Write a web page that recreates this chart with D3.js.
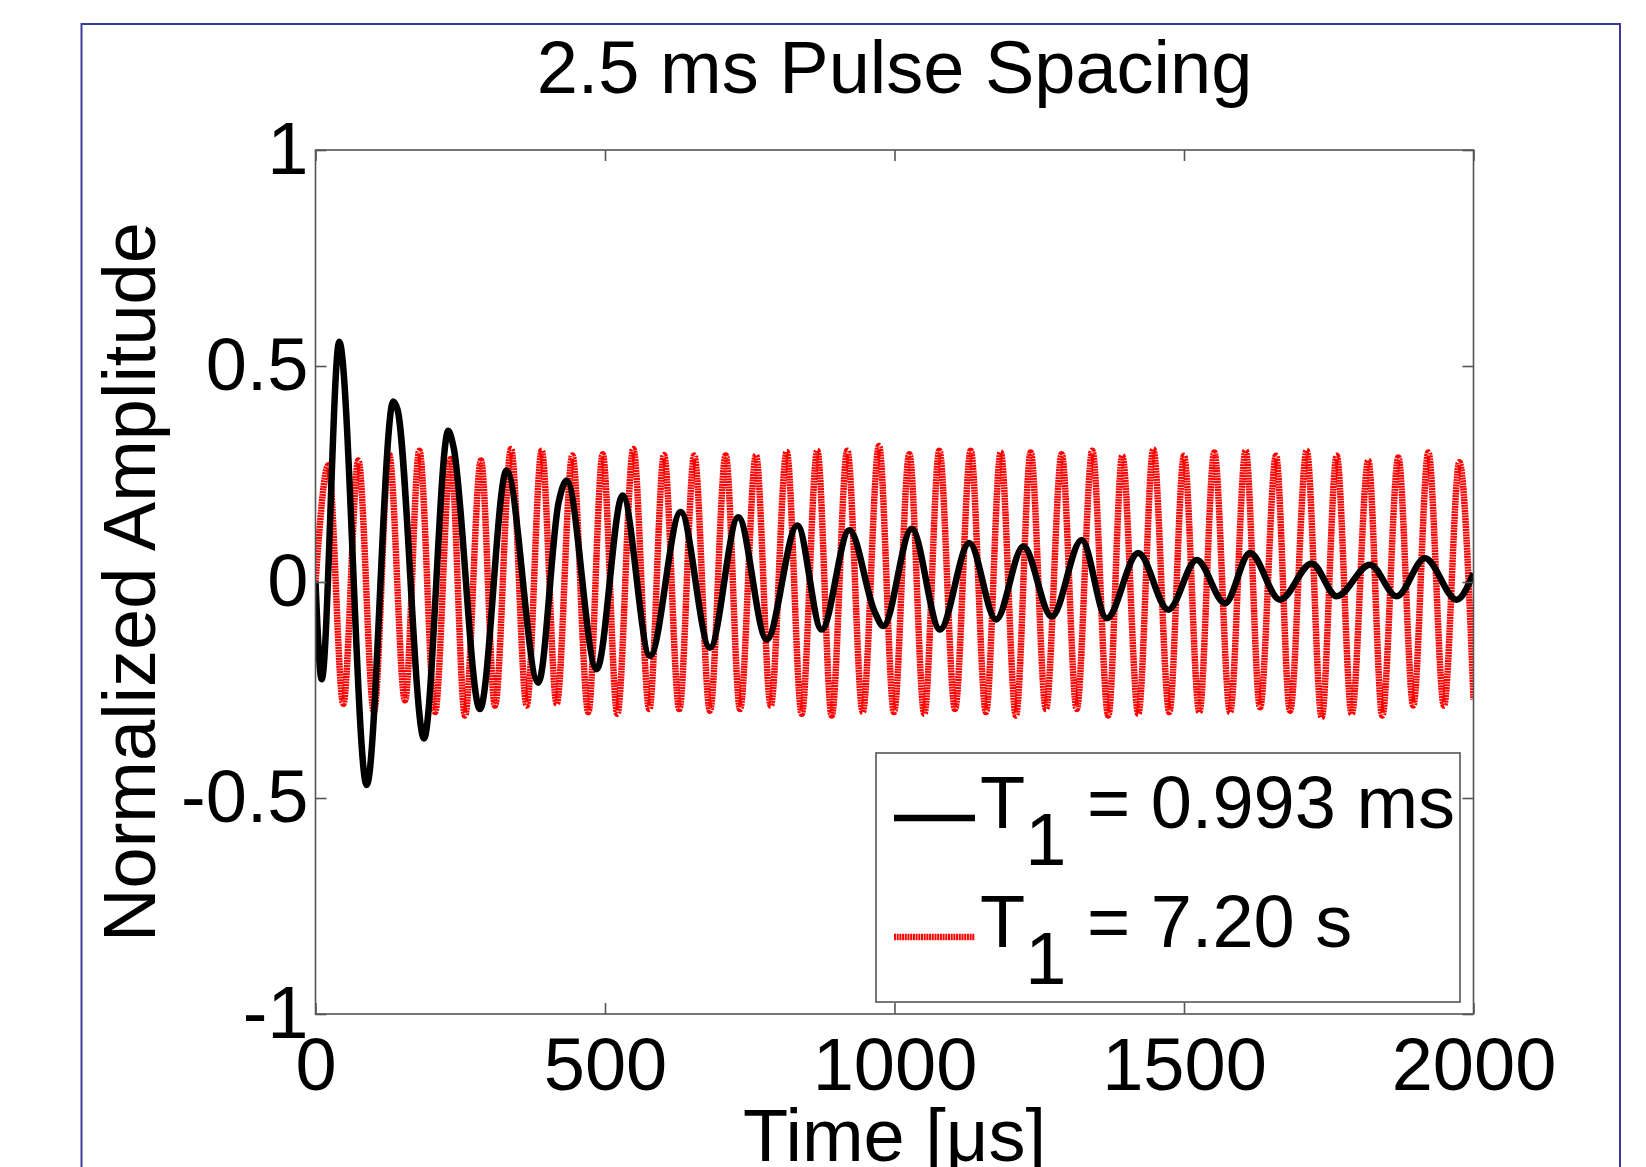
<!DOCTYPE html>
<html>
<head>
<meta charset="utf-8">
<script src="https://cdn.jsdelivr.net/npm/d3@7"></script>
<style>
  body { margin: 0; background: #fff; }
  svg { display: block; font-family: "Liberation Sans", Arial, sans-serif; }
</style>
</head>
<body>
<div id="chart"></div>
<script>
// values (time in us, normalized amplitude)
var blackT = [0, 10.7, 41, 88.4, 134.4, 141.5, 187.4, 229.4, 238, 284, 330, 384.8, 420, 433.8, 485.6,
    530.5, 577.7, 630.7, 681.3, 730.2, 779.3, 832.2, 874.2, 922, 966, 980.7,
    1029.7, 1078.6, 1129.2, 1175.3, 1222.5, 1271.5, 1323.3, 1366.5, 1421, 1472.9,
    1521.9, 1570.8, 1614, 1665.8, 1720.6, 1763.8, 1821.2, 1867.4, 1916.2, 1971, 2000];
var blackV = [0, -0.225, 0.556, -0.47, 0.418, 0.4, -0.362, 0.35, 0.315, -0.294, 0.258, -0.233, 0.185, 0.235, -0.202,
    0.2, -0.171, 0.162, -0.152, 0.15, -0.133, 0.131, -0.11, 0.12, -0.07, -0.102,
    0.123, -0.11, 0.09, -0.087, 0.082, -0.08, 0.097, -0.084, 0.067, -0.064,
    0.051, -0.049, 0.067, -0.041, 0.043, -0.033, 0.04, -0.033, 0.055, -0.041, 0.02];

var redT = [0, 22.2, 48, 74, 101, 127, 154.6, 179.3, 206.4, 233.5, 258.2, 285.8, 310,
    337.7, 364.7, 390.6, 416.6, 443.6, 471.2, 496, 521.3, 548.9, 576.5, 601.9, 628.3,
    654.2, 681.3, 708.5, 733.2, 760.8, 786.2, 813.8, 839.7, 866.7, 891.5, 918.5, 945.1,
    973.2, 999.1, 1025.6, 1051.5, 1077.4, 1104.5, 1131.6, 1158, 1183.4, 1209.8, 1235.2,
    1261.6, 1288.8, 1314.7, 1341.6, 1369.3, 1393.4, 1421.1, 1447, 1474.6, 1500, 1526.5,
    1552.3, 1579.6, 1606.5, 1631.3, 1658.9, 1683.1, 1711.9, 1737.8, 1763.7, 1789.6,
    1818.3, 1842.5, 1870.2, 1896, 1922, 1949, 1975.5, 2000];
var redV = [0, 0.27, -0.282, 0.281, -0.301, 0.296, -0.274, 0.304, -0.301, 0.285, -0.309, 0.281, -0.286,
    0.308, -0.286, 0.304, -0.282, 0.293, -0.301, 0.296, -0.305, 0.308, -0.294, 0.294, -0.294,
    0.293, -0.298, 0.293, -0.294, 0.293, -0.286, 0.301, -0.305, 0.304, -0.309, 0.304, -0.301,
    0.315, -0.301, 0.296, -0.305, 0.304, -0.294, 0.304, -0.301, 0.3, -0.309, 0.3,
    -0.294, 0.296, -0.294, 0.304, -0.309, 0.292, -0.305, 0.307, -0.301, 0.292, -0.301,
    0.3, -0.301, 0.304, -0.29, 0.292, -0.298, 0.304, -0.313, 0.292, -0.305,
    0.281, -0.309, 0.288, -0.286, 0.3, -0.286, 0.277, -0.272];

var xTicks = [0, 500, 1000, 1500, 2000];
var yTicks = [-1, -0.5, 0, 0.5, 1];
var legendLabels = [["T", "1", " = 0.993 ms"], ["T", "1", " = 7.20 s"]];

var W = 1646, H = 1167;
var box = {left: 315.5, right: 1473.5, top: 150, bottom: 1014};

var svg = d3.select("#chart").append("svg")
    .attr("width", W)
    .attr("height", H);

// blue figure frame
svg.append("rect")
    .attr("x", 81.5).attr("y", 24)
    .attr("width", 1620 - 81.5).attr("height", 1200)
    .attr("fill", "none")
    .attr("stroke", "#3a3a9c")
    .attr("stroke-width", 2);

var x = d3.scaleLinear().domain([0, 2000]).range([box.left, box.right]);
var y = d3.scaleLinear().domain([-1, 1]).range([box.bottom, box.top]);

var line = d3.line()
    .curve(d3.curveMonotoneX)
    .x(function(d) { return x(d[0]); })
    .y(function(d) { return y(d[1]); });

svg.append("clipPath").attr("id", "clip")
    .append("rect")
    .attr("x", box.left).attr("y", box.top)
    .attr("width", box.right - box.left).attr("height", box.bottom - box.top);

var plot = svg.append("g").attr("clip-path", "url(#clip)");

// red dotted (drawn thick, MATLAB style)
plot.append("path")
    .datum(d3.zip(redT, redV))
    .attr("fill", "none")
    .attr("stroke", "#ff0000")
    .attr("stroke-width", 6.5)
    .attr("stroke-dasharray", "2,0.7")
    .attr("d", line);

plot.append("path")
    .datum(d3.zip(blackT, blackV))
    .attr("fill", "none")
    .attr("stroke", "#000")
    .attr("stroke-width", 6.5)
    .attr("stroke-linejoin", "round")
    .attr("d", line);

// axes, ticks pointing inward on all four sides
function styleAxis(g) {
    g.select(".domain").remove();
    g.selectAll(".tick line").attr("stroke", "#555").attr("stroke-width", 1.6);
    g.selectAll("text").attr("font-size", 74).attr("fill", "#000")
        .attr("font-family", "Liberation Sans, Arial, sans-serif");
}

svg.append("g")
    .attr("transform", "translate(0," + box.bottom + ")")
    .call(d3.axisBottom(x).tickValues(xTicks).tickSize(-11).tickPadding(23)
        .tickFormat(d3.format("d")))
    .call(styleAxis);

svg.append("g")
    .attr("transform", "translate(0," + box.top + ")")
    .call(d3.axisTop(x).tickValues(xTicks).tickSize(-11).tickFormat(""))
    .call(styleAxis);

svg.append("g")
    .attr("transform", "translate(" + box.left + ",0)")
    .call(d3.axisLeft(y).tickValues(yTicks).tickSize(-11).tickPadding(7)
        .tickFormat(function(d) { return String(d); }))
    .call(styleAxis);

svg.append("g")
    .attr("transform", "translate(" + box.right + ",0)")
    .call(d3.axisRight(y).tickValues(yTicks).tickSize(-11).tickFormat(""))
    .call(styleAxis);

// axes box
svg.append("rect")
    .attr("x", box.left).attr("y", box.top)
    .attr("width", box.right - box.left).attr("height", box.bottom - box.top)
    .attr("fill", "none")
    .attr("stroke", "#555")
    .attr("stroke-width", 1.6);

// title and axis labels
svg.append("text")
    .attr("x", (box.left + box.right) / 2).attr("y", 93)
    .attr("text-anchor", "middle")
    .attr("font-size", 74)
    .text("2.5 ms Pulse Spacing");

svg.append("text")
    .attr("x", (box.left + box.right) / 2).attr("y", 1161)
    .attr("text-anchor", "middle")
    .attr("font-size", 74)
    .text("Time [\u03bcs]");

svg.append("text")
    .attr("transform", "translate(155," + ((box.top + box.bottom) / 2) + ") rotate(-90)")
    .attr("text-anchor", "middle")
    .attr("font-size", 74)
    .text("Normalized Amplitude");

// legend
var legend = svg.append("g");
legend.append("rect")
    .attr("x", 876).attr("y", 753)
    .attr("width", 1460 - 876).attr("height", 1002 - 753)
    .attr("fill", "#fff")
    .attr("stroke", "#555")
    .attr("stroke-width", 1.6);

var legendStyles = [
    {stroke: "#000", width: 6.5, dash: null},
    {stroke: "#ff0000", width: 6.5, dash: "2,0.7"}
];
var rowBase = [828, 947];

legendLabels.forEach(function(lab, i) {
    legend.append("line")
        .attr("x1", 894).attr("x2", 975)
        .attr("y1", rowBase[i] - 10).attr("y2", rowBase[i] - 10)
        .attr("stroke", legendStyles[i].stroke)
        .attr("stroke-width", legendStyles[i].width)
        .attr("stroke-dasharray", legendStyles[i].dash);
    var t = legend.append("text")
        .attr("x", 980).attr("y", rowBase[i])
        .attr("font-size", 74);
    t.append("tspan").text(lab[0]);
    t.append("tspan").attr("dy", 37).text(lab[1]);
    t.append("tspan").attr("dy", -37).attr("xml:space", "preserve").text(lab[2]);
});
</script>
</body>
</html>
